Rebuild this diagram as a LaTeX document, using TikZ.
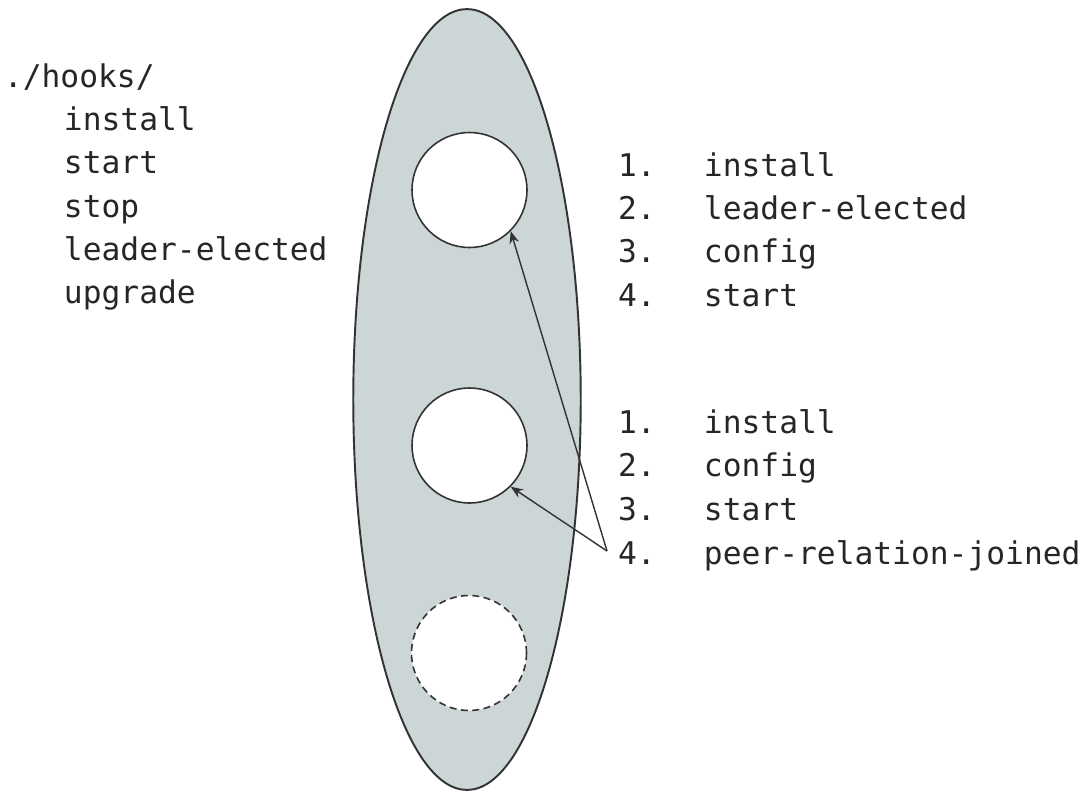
\documentclass[tikz,border=0pt]{standalone}
\usepackage{fontspec}
\setmonofont{DejaVu Sans Mono}
\usepackage{tikz}
\usetikzlibrary{shapes.geometric, arrows.meta, positioning}
\definecolor{podgray}{RGB}{204,214,215}
\definecolor{inkgray}{RGB}{51,51,51}
\tikzstyle{hook} = [inner sep=0pt, outer sep=0pt, anchor=base west,
text=black!85, font=\ttfamily\fontsize{17.8}{21}\selectfont]
\tikzstyle{group} = [ellipse, draw=inkgray, line width=1.1pt, fill=podgray,
minimum width=4.55cm, minimum height=15.62cm]
\tikzstyle{unit} = [circle, draw=inkgray, line width=0.9pt, fill=white,
minimum size=2.3cm]
\tikzstyle{newunit} = [unit, dash pattern=on 4pt off 2.5pt]
\tikzstyle{arrow} =
[draw=inkgray, line width=0.8pt, ->, >={Stealth[length=7pt,width=5.5pt]}]
\newcommand{\hookrow}[2]{\makebox[1.72cm][l]{#1}#2}

\begin{document}
\begin{tikzpicture}[x=0.02cm, y=-0.02cm]
\useasboundingbox (0,0) rectangle (1082,791);

\node(pod)[group] at (467,399.5){};
\node(first)[unit] at (469.5,190){};
\node(second)[unit] at (469.5,445.5){};
\node(third)[newunit] at (469,653){};

% hook files
\node(hooks)[hook] at (4,87){./hooks/};
\node(hinstall)[hook, below=0.868cm of hooks.base west, xshift=1.2cm, anchor=base west]{install};
\node(hstart)[hook, below=0.868cm of hinstall.base west, anchor=base west]{start};
\node(hstop)[hook, below=0.868cm of hstart.base west, anchor=base west]{stop};
\node(hleader)[hook, below=0.868cm of hstop.base west, anchor=base west]{leader-elected};
\node(hupgrade)[hook, below=0.868cm of hleader.base west, anchor=base west]{upgrade};

% order on the leader
\node(lead1)[hook] at (618,176){\hookrow{1.}{install}};
\node(lead2)[hook, below=0.87cm of lead1.base west, anchor=base west]{\hookrow{2.}{leader-elected}};
\node(lead3)[hook, below=0.87cm of lead2.base west, anchor=base west]{\hookrow{3.}{config}};
\node(lead4)[hook, below=0.87cm of lead3.base west, anchor=base west]{\hookrow{4.}{start}};

% order on the follower
\node(peer1)[hook] at (618,433){\hookrow{1.}{install}};
\node(peer2)[hook, below=0.88cm of peer1.base west, anchor=base west]{\hookrow{2.}{config}};
\node(peer3)[hook, below=0.88cm of peer2.base west, anchor=base west]{\hookrow{3.}{start}};
\node(peer4)[hook, below=0.88cm of peer3.base west, anchor=base west]{\hookrow{4.}{peer-relation-joined}};

\coordinate(fork) at (607,551);
\draw[arrow](fork) -- (first.south east);
\draw[arrow](fork) -- (second.south east);

\end{tikzpicture}
\end{document}
